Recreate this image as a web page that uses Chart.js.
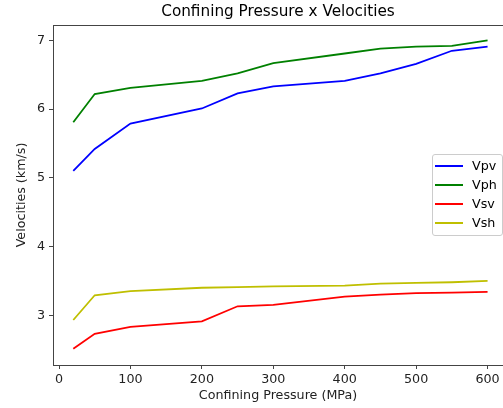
<!DOCTYPE html>
<html>
<head>
<meta charset="utf-8">
<script src="https://cdn.jsdelivr.net/npm/chart.js@4"></script>
<style>
  body { margin: 0; background: #fff; overflow: hidden; }
  #wrap { position: relative; width: 503px; height: 408px; }
  #legend {
    position: absolute; left: 432px; top: 154px; width: 69px; height: 80px;
    border: 1px solid #cccccc; border-radius: 3px; background: rgba(255,255,255,0.8);
    font-family: "DejaVu Sans"; font-size: 12.7px; color: #000;
  }
  #legend .row { position: absolute; left: 0; height: 15px; line-height: 15px; }
  #legend .sw { position: absolute; left: 2px; top: 7px; width: 28px; height: 2px; }
  #legend .tx { position: absolute; left: 39px; top: 0; white-space: nowrap; }
</style>
</head>
<body>
<div id="wrap">
  <canvas id="myChart" width="503" height="408"></canvas>
  <div id="legend"></div>
</div>
<script>
// pressure steps (MPa)
var pressure = [20, 50, 100, 200, 250, 300, 400, 450, 500, 550, 600];

// velocities (km/s)
var vpv = [5.10, 5.42, 5.79, 6.01, 6.23, 6.33, 6.41, 6.52, 6.66, 6.85, 6.91];
var vph = [5.81, 6.22, 6.31, 6.41, 6.52, 6.67, 6.81, 6.88, 6.91, 6.92, 7.00];
var vsv = [2.51, 2.73, 2.83, 2.91, 3.13, 3.15, 3.27, 3.30, 3.32, 3.33, 3.34];
var vsh = [2.93, 3.29, 3.35, 3.40, 3.41, 3.42, 3.43, 3.46, 3.47, 3.48, 3.50];

var seriesNames = ["Vpv", "Vph", "Vsv", "Vsh"];
var seriesValues = [vpv, vph, vsv, vsh];
var seriesColors = ["#0000ff", "#008000", "#ff0000", "#bfbf00"];

var xTicks = [0, 100, 200, 300, 400, 500, 600];
var yTicks = [3, 4, 5, 6, 7];

Chart.defaults.font.family = "DejaVu Sans";
Chart.defaults.color = "#222";

function pts(vals) {
  return vals.map(function (v, i) { return { x: pressure[i], y: v }; });
}

var datasets = seriesNames.map(function (name, i) {
  return {
    label: name,
    data: pts(seriesValues[i]),
    borderColor: seriesColors[i],
    backgroundColor: seriesColors[i],
    borderWidth: 1.8,
    pointRadius: 0,
    tension: 0,
    fill: false
  };
});

var spine = "#444";

new Chart("myChart", {
  type: "line",
  data: { datasets: datasets },
  options: {
    responsive: false,
    animation: false,
    layout: { padding: 0 },
    plugins: {
      legend: { display: false },
      title: { display: false },
      tooltip: { enabled: false }
    },
    scales: {
      x: {
        type: "linear",
        position: "bottom",
        min: -8.4,
        max: 621.6,
        afterBuildTicks: function (s) { s.ticks = xTicks.map(function (v) { return { value: v }; }); },
        ticks: { font: { size: 12.7 }, padding: 3, maxRotation: 0, autoSkip: false },
        grid: { drawOnChartArea: false, drawTicks: true, tickLength: 4, tickColor: spine },
        border: { display: true, color: spine, width: 1 },
        title: { display: true, text: "Confining Pressure (MPa)", font: { size: 12.7 }, padding: { top: 0, bottom: 4.5 } },
        afterFit: function (s) { s.height = 43; }
      },
      x2: {
        type: "linear",
        axis: "x",
        position: "top",
        min: -8.4,
        max: 621.6,
        ticks: { display: false },
        grid: { display: false, drawTicks: false },
        border: { display: true, color: spine, width: 1 },
        title: { display: true, text: "Confining Pressure x Velocities", font: { size: 15.25 }, color: "#000", padding: { top: 3, bottom: 0 } },
        afterFit: function (s) { s.height = 25; }
      },
      y: {
        type: "linear",
        min: 2.275,
        max: 7.225,
        afterBuildTicks: function (s) { s.ticks = yTicks.map(function (v) { return { value: v }; }); },
        ticks: { font: { size: 12.7 }, padding: 4 },
        grid: { drawOnChartArea: false, drawTicks: true, tickLength: 4, tickColor: spine },
        border: { display: true, color: spine, width: 1 },
        title: { display: true, text: "Velocities (km/s)", font: { size: 12.7 }, padding: { top: 14.5, bottom: 0 } },
        afterFit: function (s) { s.width = 53; }
      }
    }
  }
});

// legend box drawn from the dataset list
var lg = document.getElementById("legend");
seriesNames.forEach(function (name, i) {
  var row = document.createElement("div");
  row.className = "row";
  row.style.top = (2.5 + i * 19.3) + "px";
  row.innerHTML = '<div class="sw" style="background:' + seriesColors[i] + '"></div><div class="tx">' + name + "</div>";
  lg.appendChild(row);
});
</script>
</body>
</html>
